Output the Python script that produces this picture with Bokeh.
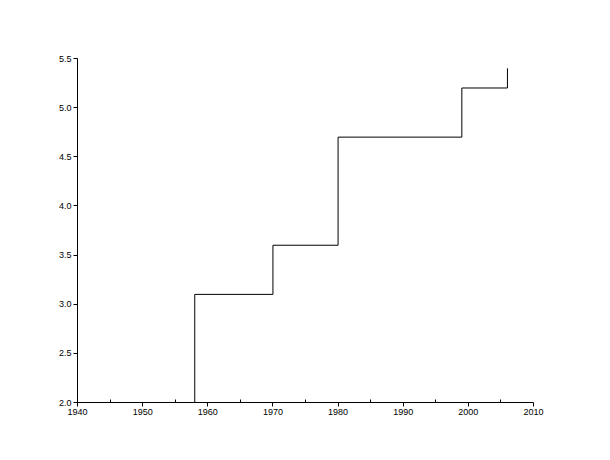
from bokeh.plotting import figure
from bokeh.embed import file_html
from bokeh.resources import INLINE
from bokeh.models import Range1d, FixedTicker, CustomJSTickFormatter

years = [1958, 1970, 1980, 1999, 2006]
values = [3.1, 3.6, 4.7, 5.2, 5.4]
start_value = 2.0
x_ticks = [1940, 1950, 1960, 1970, 1980, 1990, 2000, 2010]
x_minor = [1945, 1955, 1965, 1975, 1985, 1995, 2005]
y_ticks = [2.0, 2.5, 3.0, 3.5, 4.0, 4.5, 5.0, 5.5]

# build step path: vertical rise at each year, then hold until next year
xs, ys = [years[0]], [start_value]
for i, (yr, v) in enumerate(zip(years, values)):
    xs.append(yr); ys.append(v)
    if i + 1 < len(years):
        xs.append(years[i + 1]); ys.append(v)

p = figure(width=602, height=452, output_backend="svg", toolbar_location=None,
           x_range=Range1d(1940, 2010), y_range=Range1d(2.0, 5.5),
           min_border_left=77, min_border_right=69, min_border_top=58, min_border_bottom=50)
p.outline_line_color = None
p.grid.visible = False
p.background_fill_color = "white"
p.border_fill_color = "white"

p.line(xs, ys, line_color="black", line_width=1)

p.xaxis.ticker = FixedTicker(ticks=x_ticks, minor_ticks=x_minor)
p.yaxis.ticker = FixedTicker(ticks=y_ticks, minor_ticks=[])
p.yaxis.formatter = CustomJSTickFormatter(code="return tick.toFixed(1);")

for ax in (p.xaxis[0], p.yaxis[0]):
    ax.axis_line_color = "black"
    ax.major_tick_line_color = "black"
    ax.minor_tick_line_color = "black"
    ax.major_label_text_font = "Liberation Sans"
    ax.major_label_text_font_size = "9px"
    ax.major_label_text_color = "black"
    ax.major_label_standoff = 2

p.xaxis.major_tick_out = 4
p.xaxis.major_tick_in = 0
p.xaxis.minor_tick_out = 0
p.xaxis.minor_tick_in = 3
p.yaxis.major_tick_out = 4
p.yaxis.major_tick_in = 0
p.yaxis.minor_tick_out = 0
p.yaxis.minor_tick_in = 0

open("out.html", "w").write(file_html(p, INLINE))
